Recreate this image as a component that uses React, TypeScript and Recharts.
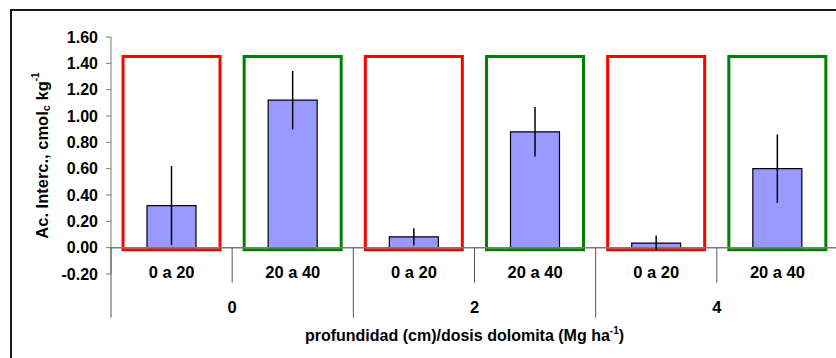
import React from 'react';
import { ComposedChart, Bar, XAxis, YAxis, ErrorBar, ReferenceLine, Cell } from 'recharts';

// Exchangeable acidity by sampling depth and dolomite dose
const depthLabels = ['0 a 20', '20 a 40', '0 a 20', '20 a 40', '0 a 20', '20 a 40'];
const doseLabels = ['0', '0', '2', '2', '4', '4'];
const acidity = [0.32, 1.12, 0.082, 0.88, 0.035, 0.6];
const acidityError = [0.3, 0.222, 0.066, 0.188, 0.057, 0.26];
// Highlight frame drawn around each depth group (low, high)
const frameRange = [-0.015, 1.452];
const frameColors = ['#FF0000', '#008000', '#FF0000', '#008000', '#FF0000', '#008000'];
const yTicks = [-0.2, 0, 0.2, 0.4, 0.6, 0.8, 1.0, 1.2, 1.4, 1.6];

const data = depthLabels.map((depth, i) => ({
  key: `${doseLabels[i]}|${depth}`,
  depth,
  dose: doseLabels[i],
  value: acidity[i],
  err: acidityError[i],
  frame: frameRange,
}));

// Layout
const CHART_W = 840;
const CHART_H = 358;
const MARGIN = { top: 37, right: 2, left: 0, bottom: 24 };
const Y_AXIS_W = 111;
const X_AXIS_H = 60;
const PLOT_H = CHART_H - MARGIN.top - MARGIN.bottom - X_AXIS_H;
const PLOT_W = CHART_W - MARGIN.left - MARGIN.right - Y_AXIS_W;
const PLOT_BOTTOM = MARGIN.top + PLOT_H;
const Y_MIN = -0.2;
const Y_MAX = 1.6;
const PX_PER_UNIT = PLOT_H / (Y_MAX - Y_MIN);
const ZERO_Y = PLOT_BOTTOM - (0 - Y_MIN) * PX_PER_UNIT;
const HALF_BAND = PLOT_W / data.length / 2;

const FONT = '"Liberation Sans", Arial, sans-serif';
const AXIS_GREY = '#7a7a7a';
const SEP_COLOR = '#555555';

const DepthTick = (props: any) => {
  const { x, payload } = props;
  const i: number = props.index ?? payload.index ?? 0;
  const half = payload && payload.offset ? payload.offset : HALF_BAND;
  const left = x - half;
  const right = x + half;
  const isGroupStart = i % 2 === 0;
  const isLast = i === data.length - 1;
  return (
    <g>
      <line
        x1={left}
        x2={left}
        y1={ZERO_Y}
        y2={ZERO_Y + (isGroupStart ? 70 : 35)}
        stroke={SEP_COLOR}
        strokeWidth={1}
      />
      {isLast && (
        <line x1={right} x2={right} y1={ZERO_Y} y2={ZERO_Y + 70} stroke={SEP_COLOR} strokeWidth={1} />
      )}
      <text
        x={x}
        y={ZERO_Y + 30}
        textAnchor="middle"
        fontFamily={FONT}
        fontWeight="bold"
        fontSize={16.5}
        fill="#000"
      >
        {depthLabels[i]}
      </text>
      {isGroupStart && (
        <text
          x={right}
          y={ZERO_Y + 65}
          textAnchor="middle"
          fontFamily={FONT}
          fontWeight="bold"
          fontSize={16.5}
          fill="#000"
        >
          {doseLabels[i]}
        </text>
      )}
    </g>
  );
};

const XTitle = (props: any) => {
  const vb = props.viewBox || { x: 0, y: 0, width: 0, height: 0 };
  return (
    <text
      x={vb.x + vb.width / 2 - 10}
      y={ZERO_Y + 93}
      textAnchor="middle"
      fontFamily={FONT}
      fontWeight="bold"
      fontSize={16}
      fill="#000"
    >
      profundidad (cm)/dosis dolomita (Mg ha
      <tspan dy={-7} fontSize={10}>-1</tspan>
      <tspan dy={7}>)</tspan>
    </text>
  );
};

const YTitle = (props: any) => {
  const vb = props.viewBox || { x: 0, y: 0, width: 0, height: 0 };
  const cx = vb.x + 42;
  const cy = vb.y + vb.height / 2;
  return (
    <text
      x={cx}
      y={cy}
      transform={`rotate(-90 ${cx} ${cy})`}
      textAnchor="middle"
      dominantBaseline="central"
      fontFamily={FONT}
      fontWeight="bold"
      fontSize={16.5}
      fill="#000"
    >
      Ac. Interc., cmol
      <tspan dy={4} fontSize={11}>c</tspan>
      <tspan dy={-4}> kg</tspan>
      <tspan dy={-7} fontSize={10}>-1</tspan>
    </text>
  );
};

export default function App() {
  return (
    <div
      style={{
        position: 'absolute',
        left: 0,
        top: 0,
        width: 836,
        height: 358,
        overflow: 'hidden',
        background: '#fff',
      }}
    >
      <div
        style={{
          position: 'absolute',
          left: 10,
          top: 9,
          width: 900,
          height: 400,
          border: '2px solid #1a1a1a',
          boxSizing: 'border-box',
        }}
      />
      <div style={{ position: 'absolute', left: 0, top: 0 }}>
        <ComposedChart width={CHART_W} height={CHART_H} data={data} margin={MARGIN}>
          <XAxis
            xAxisId="main"
            dataKey="key"
            type="category"
            height={X_AXIS_H}
            axisLine={false}
            tickLine={false}
            tickSize={0}
            tickMargin={0}
            interval={0}
            tick={<DepthTick />}
            label={<XTitle />}
          />
          <XAxis xAxisId="frame" dataKey="key" type="category" hide />
          <YAxis
            type="number"
            domain={[Y_MIN, Y_MAX]}
            ticks={yTicks}
            width={Y_AXIS_W}
            interval={0}
            allowDataOverflow
            tickFormatter={(v: number) => v.toFixed(2)}
            tick={{ fontFamily: FONT, fontWeight: 'bold', fontSize: 16, fill: '#000' }}
            tickSize={5}
            tickMargin={8}
            axisLine={{ stroke: AXIS_GREY, strokeWidth: 1 }}
            tickLine={{ stroke: AXIS_GREY, strokeWidth: 1 }}
            label={<YTitle />}
          />
          <Bar
            xAxisId="frame"
            dataKey="frame"
            barSize={97}
            fill="none"
            strokeWidth={3}
            isAnimationActive={false}
          >
            {data.map((d, i) => (
              <Cell key={d.key} fill="none" stroke={frameColors[i]} />
            ))}
          </Bar>
          <ReferenceLine xAxisId="main" y={0} stroke={AXIS_GREY} strokeWidth={1.5} />
          <Bar
            xAxisId="main"
            dataKey="value"
            barSize={49}
            fill="#9999FF"
            stroke="#000"
            strokeWidth={1.2}
            isAnimationActive={false}
          >
            <ErrorBar dataKey="err" width={0} stroke="#000" strokeWidth={1.5} direction="y" />
          </Bar>
        </ComposedChart>
      </div>
    </div>
  );
}
